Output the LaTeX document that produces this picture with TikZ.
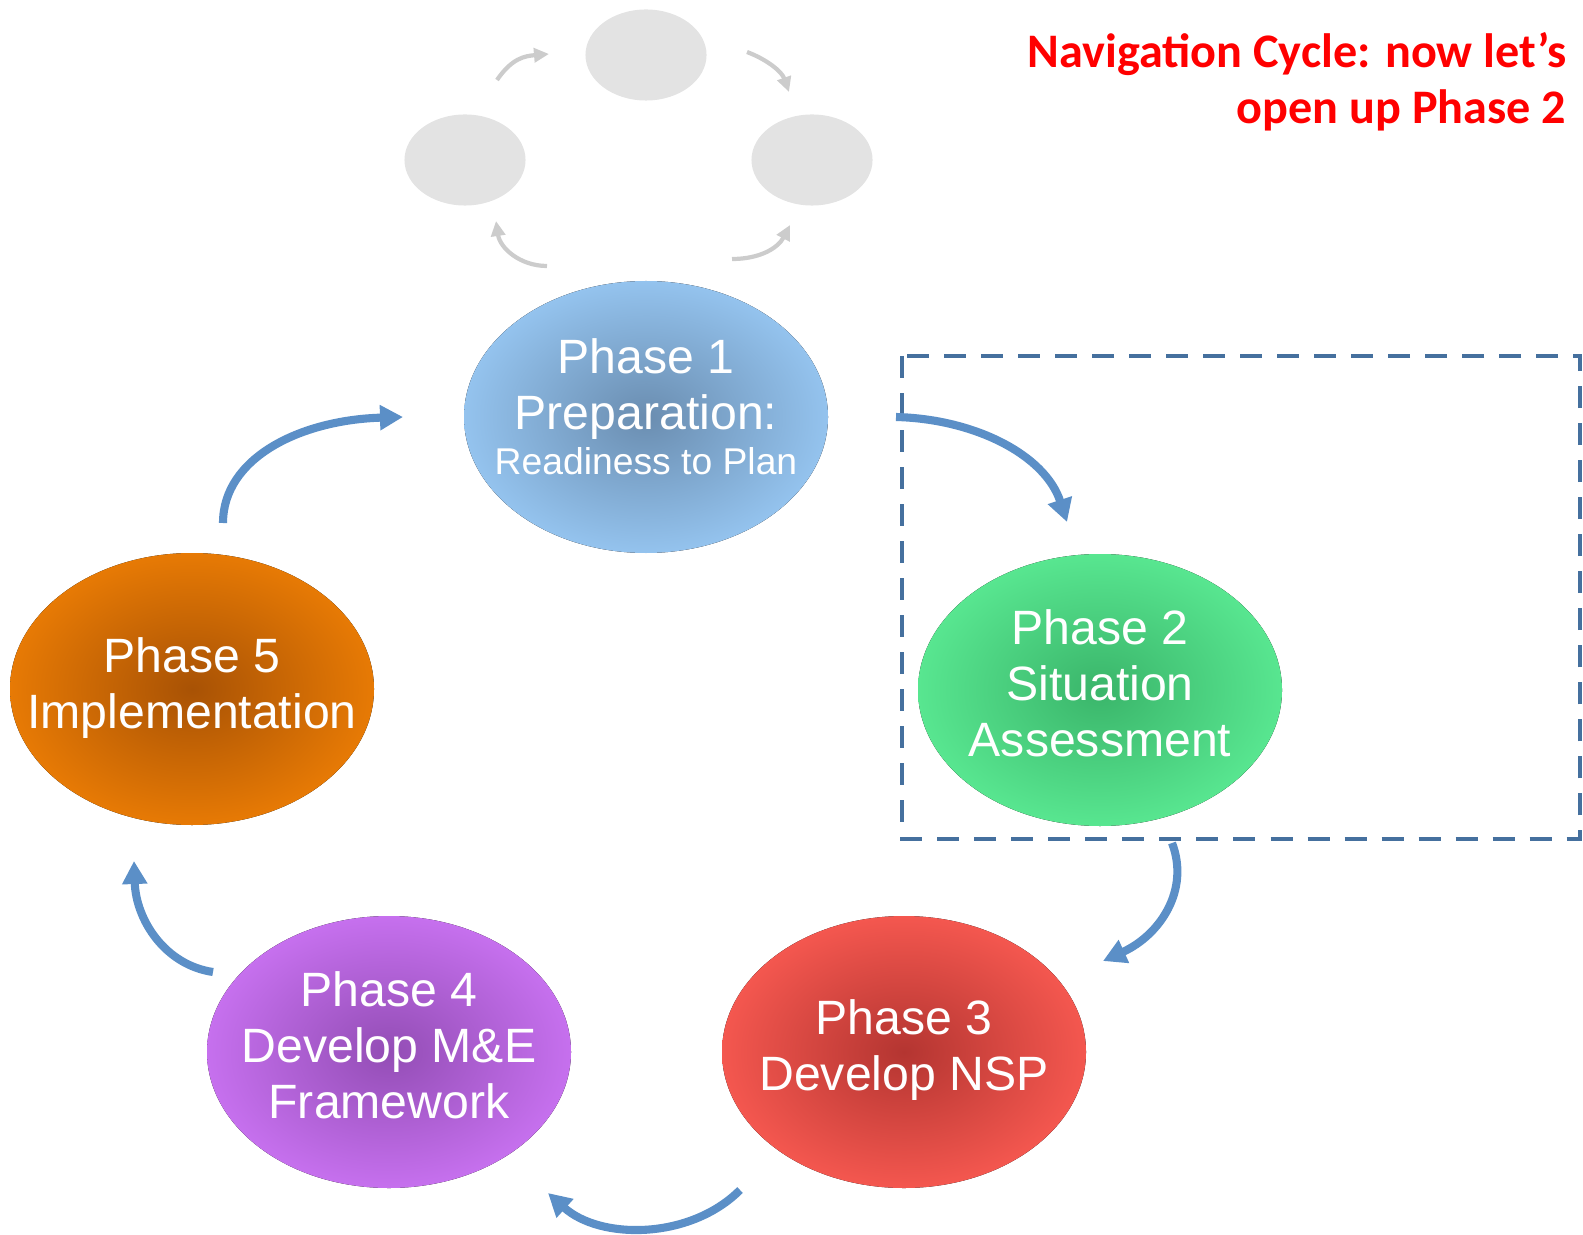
\documentclass[tikz,border=0pt]{standalone}
\usepackage{fontspec}
\setmainfont{Liberation Sans}
\newfontfamily\titlefont{Carlito}
\usetikzlibrary{shapes.geometric,arrows.meta}

\definecolor{cyclearrow}{HTML}{5B8FC7}
\definecolor{ghostgray}{HTML}{E3E3E3}
\definecolor{ghostarrow}{HTML}{CCCCCC}
\definecolor{boxblue}{HTML}{45709E}
\definecolor{oneIn}{HTML}{6A8DB0}   \definecolor{oneOut}{HTML}{94C3EE}
\definecolor{twoIn}{HTML}{3AB56A}   \definecolor{twoOut}{HTML}{58E690}
\definecolor{threeIn}{HTML}{B43531} \definecolor{threeOut}{HTML}{F4574F}
\definecolor{fourIn}{HTML}{934DB5}  \definecolor{fourOut}{HTML}{C670EE}
\definecolor{fiveIn}{HTML}{A85205}  \definecolor{fiveOut}{HTML}{E77A05}

\tikzset{
  phase/.style={inner sep=0pt, text=white, align=center,
    font=\fontsize{13.7}{15.9}\selectfont},
  ghost/.style={ellipse, fill=ghostgray, minimum width=1.21cm, minimum height=0.91cm, inner sep=0pt},
  cyclearr/.style={draw=cyclearrow, line width=2.3pt, -{Triangle[length=0.23cm,width=0.24cm]}},
  ghostarr/.style={draw=ghostarrow, line width=1.2pt, -{Triangle[length=0.15cm,width=0.14cm]}}
}

\begin{document}
\begin{tikzpicture}[x=0.01cm, y=-0.01cm]
  \useasboundingbox (0,0) rectangle (1583,1234);

  % small cycle on top
  \node[ghost] (gtop) at (646,55) {};
  \node[ghost] (gleft) at (465,160) {};
  \node[ghost] (gright) at (812,160) {};
  \coordinate (ga1) at (497,80);   \coordinate (ga2) at (549,54);
  \coordinate (gb1) at (747,52);   \coordinate (gb2) at (789,92);
  \coordinate (gc1) at (732,259);  \coordinate (gc2) at (790,225);
  \coordinate (gd1) at (547,266);  \coordinate (gd2) at (496,221);
  \draw[ghostarr] (ga1) .. controls (512,58) and (525,56) .. (ga2);
  \draw[ghostarr] (gb1) .. controls (768,60) and (782,72) .. (gb2);
  \draw[ghostarr] (gc1) .. controls (760,259) and (778,248) .. (gc2);
  \draw[ghostarr] (gd1) .. controls (520,266) and (500,248) .. (gd2);

  % title
  \node[anchor=north east, inner sep=0pt, align=right, text=red,
    font=\titlefont\bfseries\fontsize{13.7}{15.9}\selectfont] (title) at (1567,32)
    {Navigation Cycle: now let’s\\open up Phase 2};

  % box round phase 2
  \draw[boxblue, line width=1.4pt, dash pattern=on 0.22cm off 0.15cm] (902,356) rectangle (1580,839);

  % the five phases
  \fill[inner color=oneIn, outer color=oneOut] (646,417) ellipse (182 and 136);
  \fill[inner color=twoIn, outer color=twoOut] (1100,690) ellipse (182 and 136);
  \fill[inner color=threeIn, outer color=threeOut] (904,1052) ellipse (182 and 136);
  \fill[inner color=fourIn, outer color=fourOut] (389,1052) ellipse (182 and 136);
  \fill[inner color=fiveIn, outer color=fiveOut] (192,689) ellipse (182 and 136);
  \node[phase] (p1) at (646,407)
    {Phase 1\\Preparation:\\[-3pt]{\fontsize{10.6}{12}\selectfont Readiness to Plan}};
  \node[phase] (p2) at (1100,683) {Phase 2\\Situation\\Assessment};
  \node[phase] (p3) at (904,1050) {Phase 3\\Develop NSP};
  \node[phase] (p4) at (389,1045) {Phase 4\\Develop M\&E\\Framework};
  \node[phase] (p5) at (192,688) {Phase 5\\Implementation};

  % arrows round the cycle
  \coordinate (a12) at (896,417);  \coordinate (b12) at (1067,522);
  \coordinate (a23) at (1172,843); \coordinate (b23) at (1103,961);
  \coordinate (a34) at (740,1190); \coordinate (b34) at (548,1193);
  \coordinate (a45) at (213,972);  \coordinate (b45) at (134,861);
  \coordinate (a51) at (223,523);  \coordinate (b51) at (403,417);
  \draw[cyclearr] (a12) .. controls (975,419) and (1045,455) .. (b12);
  \draw[cyclearr] (a23) .. controls (1190,890) and (1160,935) .. (b23);
  \draw[cyclearr] (a34) .. controls (690,1240) and (600,1240) .. (b34);
  \draw[cyclearr] (a45) .. controls (165,965) and (136,920) .. (b45);
  \draw[cyclearr] (a51) .. controls (223,458) and (300,420) .. (b51);
\end{tikzpicture}
\end{document}
